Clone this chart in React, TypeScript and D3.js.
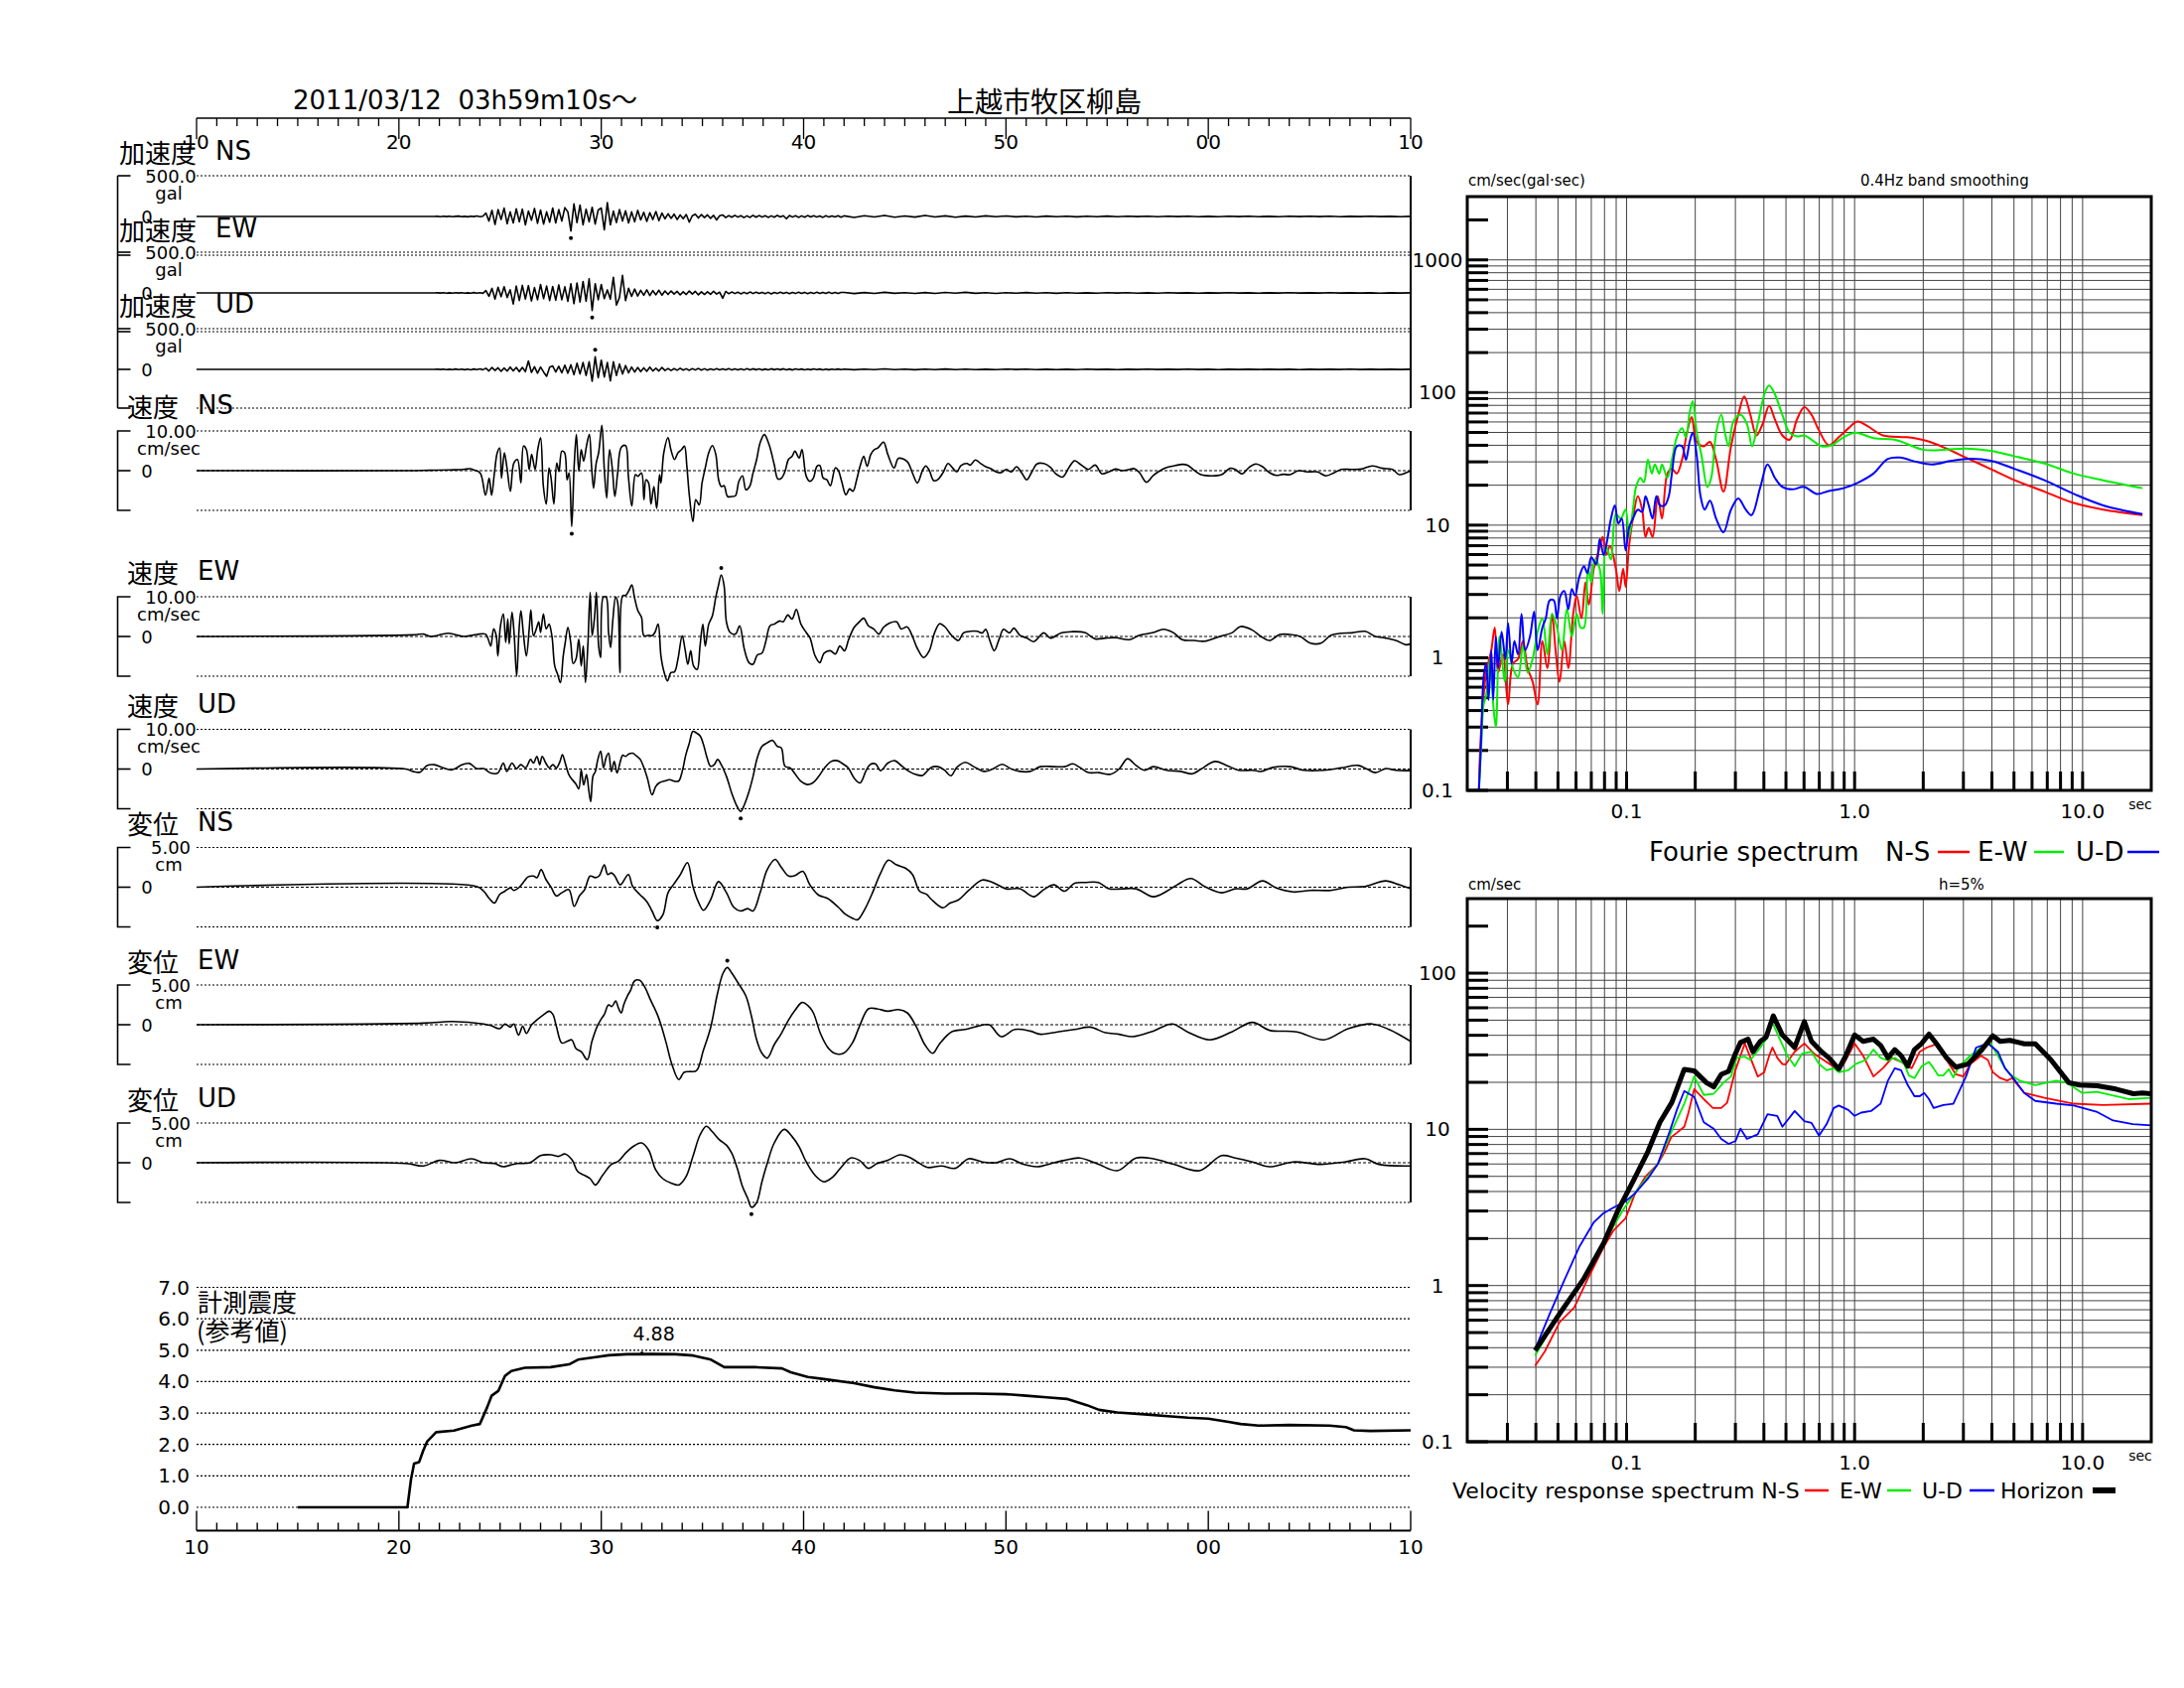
import React from 'react';
import * as d3 from 'd3';

type Pt = [number, number];

// ---- header / axes text ----
const TITLE_TIME = '2011/03/12  03h59m10s～';
const TITLE_SITE = '上越市牧区柳島';
const timeMajor = [10, 20, 30, 40, 50, 60, 70];
const timeMajorLabels = ['10', '20', '30', '40', '50', '00', '10'];

// ---- acceleration (gal), dense part sampled every ACC_DT from ACC_T0, tail every TAIL_DT from TAIL_T0 ----
const ACC_T0 = 21.9;
const ACC_DT = 0.15;
const TAIL_T0 = 42;
const TAIL_DT = 0.5;

const accNS = [
    2, -3, 4, -2, 3, -4, 2, 5, -3, 2, -5, 4, -2, 6, -4, 3,
    45, -60, 80, -105, 90, -40, 110, -95, 60, -85, 100, -70,
    95, -110, 70, -50, 105, -90, 85, -100, 60, -75, 110, -85,
    90, -60, 115, 60, -190, 165, -80, 150, -110, 95, -70, 120,
    -100, 85, 110, -175, 180, -110, 70, -80, 90, -60, 75, -85,
    60, -70, 80, -45, 55, -65, 50, -40, 65, -55, 45, -30,
    35, -25, 30, -40, 20, -30, 25, -75, 10, 30, -20, 25,
    -15, 20, -25, 15, -45, 10, 20, -15,
    12, -10, 15, -8, 10, -15, 8, -12, 15, -10, 12, -8,
    10, -12, 8, -10, 14, -6, 10, -30, 12, -8, 10, -12,
    8, -10, 12, -6, 10, -8, 6, -12, 10, -8, 8, -6, 10, -10
];
const accNSTail = [
    8, -12, 10, -6, 14, -10, 6, -8, 12, -6, 8, -10, 5, -6, 8, -4, 6, -5, 4, -6, 5, -3,
    4, -5, 3, -4, 5, -3, 4, -2, 3, -4, 3, -2, 4, -3, 2, -3, 4, -2, 3, -3,
    2, -3, 3, -2, 4, -2, 3, -3, 2, -2, 3, -2, 2, -3, 2
];
const accEW = [
    2, -2, 3, -3, 2, -4, 3, -2, 4, -3, 2, -3, 5, -4, 3, -5,
    30, -45, 60, -80, 75, -50, 80, -60, 40, -145, 90, -100,
    100, -80, 95, -105, 70, -90, 110, -75, 90, -100, 85, -95,
    105, -90, 80, -110, 120, -140, 130, -120, 150, -110, 185, -230,
    120, -90, 110, -75, 40, -80, 205, -160, -60, 230, -100, 60,
    -45, 50, -40, 35, -30, 40, -35, 30, -25, 35, -30, 25,
    -20, 25, -15, 20, -25, 15, -20, 25, -15, 20, -25, 15,
    -20, 15, -18, 22, -15, 10, -70, 20,
    -10, 12, -8, 10, -12, 8, -10, 12, -8, 10, -6, 8,
    -10, 8, -12, 6, -8, 10, -6, 8, -10, 6, -8, 10,
    -6, 8, -10, 6, -8, 10, -6, 8, -6, 10, -8, 6, -8, 6
];
const accEWTail = [
    6, -8, 5, -6, 8, -5, 4, -6, 5, -7, 6, -4, 8, -5, 4, -6, 3, -4, 5, -3, 4, -5,
    3, -4, 2, -3, 4, -2, 3, -3, 2, -3, 3, -2, 2, -3, 2, -2, 3, -2, 2, -3,
    2, -2, 3, -2, 2, -2, 3, -2, 2, -2, 2, -3, 2, -2, 2
];
const accUD = [
    3, -2, 4, -3, 2, -4, 5, -3, 4, -5, 3, -6, 5, -4, 6, -5,
    15, -20, 25, -15, 20, -25, 18, -22, 30, -20, 25, -30,
    25, -30, 110, -40, 35, -50, 30, -35, -90, 30, 45, -35,
    40, -45, 55, -50, 60, -70, 80, -60, 90, -80, 100, -155,
    165, -110, 120, -100, 90, -150, 100, -80, 70, -60, 50, -45,
    30, -35, 25, -30, 20, -25, 30, -20, 15, -20, 25, -15,
    12, -15, 10, -12, 14, -10, 8, -12, 10, -8, 12, -10,
    8, -10, 6, -8, 10, -6, 8, -6, 10, -8, 6, -8,
    6, -8, 10, -6, 8, -5, 6, -8, 5, -6, 8, -5,
    6, -5, 8, -6, 5, -8, 6, -4, 5, -6, 4, -5,
    6, -4, 5, -6, 4, -5, 3, -4, 5, -3
];
const accUDTail = [
    4, -5, 3, -4, 6, -3, 4, -5, 3, -4, 5, -3, 3, -4, 2, -3, 4, -2, 3, -3, 2, -3,
    2, -3, 3, -2, 2, -3, 2, -2, 3, -2, 2, -2, 3, -2, 2, -3, 2, -2, 2, -2,
    2, -2, 2, -3, 2, -2, 2, -2, 3, -2, 2, -2, 2, -2, 2
];

// ---- velocity (cm/sec) [time s, value] ----
const velNS: Pt[] = [
    [10, 0], [20.5, 0], [21.5, 0.1], [22.5, 0.2], [23.2, 0.3], [23.5, 0.5], [23.7, 0.2], [24.02, -0.6], [24.28, -6.2],
    [24.46, -1.9], [24.58, -6.2], [24.72, -0.6], [24.86, 4.5], [24.98, 5.7], [25.07, -1.9], [25.21, 4.5], [25.33, 1.1],
    [25.51, -5.2], [25.68, 1.9], [25.86, 2.8], [26.03, -3.1], [26.16, 6.2], [26.3, 5.3], [26.44, 0.3], [26.56, 4.1],
    [26.73, 0.3], [26.86, 5.3], [27.0, 8.3], [27.14, -4.0], [27.28, -8.4], [27.42, 0.7], [27.52, -1.9], [27.66, -8.4],
    [27.8, 1.9], [27.91, -0.2], [28.05, 4.9], [28.19, 4.5], [28.31, -2.3], [28.41, -0.6], [28.54, -14.1], [28.66, 1.1],
    [28.77, 9.1], [28.89, -0.2], [29.01, 5.3], [29.13, 2.4], [29.27, 6.2], [29.41, 9.1], [29.52, 1.1], [29.62, -4.4],
    [29.75, 1.9], [29.87, 4.5], [30.03, 11.4], [30.15, 0.3], [30.27, -6.9], [30.41, 5.3], [30.55, 0.3], [30.67, -6.5],
    [30.81, -0.6], [30.99, 5.9], [31.2, 6.3], [31.34, -1.4], [31.51, -8.9], [31.69, -1.0], [31.81, -1.4], [31.99, -0.6],
    [32.11, -7.3], [32.21, -2.3], [32.34, -3.1], [32.46, -8.4], [32.6, -4.0], [32.74, -9.5], [32.88, -1.0], [32.95, -3.1],
    [33.09, 4.5], [33.3, 8.3], [33.44, 5.3], [33.62, 2.8], [33.79, 4.5], [33.97, 5.3], [34.11, 6.2], [34.23, 1.1],
    [34.35, -6.1], [34.53, -12.8], [34.67, -7.3], [34.84, -8.6], [34.98, -3.1], [35.14, 0.7], [35.31, 4.5], [35.49, 6.3],
    [35.66, 4.1], [35.8, -2.3], [35.93, -4.0], [36.07, -3.8], [36.24, -6.5], [36.45, -6.5], [36.63, -6.3], [36.8, -2.7],
    [36.98, -1.3], [37.15, -4.8], [37.33, -4.0], [37.5, -0.6], [37.68, 2.8], [37.85, 7.0], [38.06, 9.1], [38.29, 6.6],
    [38.55, 1.5], [38.73, -2.1], [38.9, -1.9], [39.08, -0.2], [39.25, 2.8], [39.43, 3.6], [39.57, 4.9], [39.78, 3.2],
    [39.92, 5.3], [40.13, -1.4], [40.31, -2.7], [40.48, -1.9], [40.66, 1.1], [40.8, 1.3], [40.97, -1.9], [41.15, -2.3],
    [41.32, -3.8], [41.57, 0.7], [41.71, 0.1], [41.88, -2.7], [42.09, -6.1], [42.27, -4.6], [42.44, -5.2], [42.62, -2.3],
    [42.79, 1.1], [42.97, 3.6], [43.14, 1.1], [43.32, 4.1], [43.49, 5.3], [43.67, 5.7], [43.95, 7.2], [44.16, 4.1],
    [44.47, 0.7], [44.69, 3.1], [45.12, 2.3], [45.37, -0.5], [45.62, -3.1], [45.88, 0.1], [46.04, 1.2], [46.21, 0.1],
    [46.43, -2.5], [46.64, -2.2], [46.89, -0.5], [47.14, 1.8], [47.35, 0.8], [47.57, -0.3], [47.78, 1.3], [48.07, 1.8],
    [48.24, 1.4], [48.49, 2.7], [48.75, 1.8], [49.0, 1.0], [49.25, 0.5], [49.51, -0.3], [49.76, -0.5], [50.01, 0.3],
    [50.27, -0.3], [50.52, 1.0], [50.77, -0.5], [51.03, -2.3], [51.28, -0.3], [51.53, 1.7], [51.87, 1.8], [52.21, 0.8],
    [52.46, -0.8], [52.8, -1.6], [53.14, 1.0], [53.39, 2.5], [53.73, 1.4], [54.07, 0.3], [54.41, 1.4], [54.74, -0.8],
    [55.08, -0.3], [55.42, 0.4], [55.76, 0], [56.1, 0.3], [56.35, 0.5], [56.6, -0.5], [56.94, -2.9], [57.28, -1.2],
    [57.62, 0], [57.95, 0.8], [58.38, 1.3], [58.71, 1.6], [58.97, 1.4], [59.3, 0.1], [59.64, -1.0], [60.15, -1.3],
    [60.66, -1.0], [61.08, 0.6], [61.33, 0.3], [61.67, -0.8], [62.01, 0.8], [62.35, 1.7], [62.68, 1.0], [63.02, -0.5],
    [63.36, -1.2], [63.7, -0.9], [64.03, -1.0], [64.46, 0], [64.88, -0.3], [65.39, -0.3], [65.81, -1.3], [66.23, -0.5],
    [66.57, 0.3], [67.08, 0.3], [67.58, 0.4], [68.09, 1.2], [68.6, 0.6], [69.1, 0.3], [69.44, -1.0], [69.78, -0.5], [70, 0]
];
const velEW: Pt[] = [
    [10, 0], [20.69, 0.4], [21.22, 0.6], [21.57, 0], [22.44, 0.8], [23.23, 0], [23.84, 0.5], [24.28, 0.6], [24.4, -0.5],
    [24.54, -2.4], [24.68, 1.9], [24.81, 0.2], [24.89, -4.9], [25.02, 2.7], [25.16, 5.7], [25.28, -1.5], [25.38, 4.4],
    [25.45, -1.9], [25.59, 6.1], [25.7, 0.2], [25.82, -10.0], [25.94, 1.9], [26.03, 6.5], [26.16, 0.2], [26.3, -4.9],
    [26.44, 1.9], [26.52, 6.7], [26.65, 0.2], [26.79, 1.9], [26.91, 3.7], [27.0, 1.0], [27.14, 5.7], [27.28, 1.9],
    [27.42, 3.1], [27.56, 0.2], [27.7, -7.4], [27.84, -9.5], [27.98, -11.6], [28.12, -4.9], [28.22, -1.5], [28.35, 2.3],
    [28.49, -1.5], [28.61, -6.8], [28.75, -5.7], [28.89, -0.7], [29.01, -7.4], [29.11, -2.4], [29.22, -11.6], [29.34, -1.9],
    [29.45, 11.1], [29.55, 0.2], [29.66, 4.4], [29.76, 11.1], [29.87, -2.4], [29.97, -5.3], [30.1, 9.9], [30.24, 9.9],
    [30.36, 1.0], [30.46, -2.8], [30.57, 4.0], [30.71, 9.9], [30.81, 8.6], [30.92, -9.1], [31.06, 10.3], [31.2, 10.3],
    [31.37, 11.6], [31.51, 13.0], [31.64, 9.9], [31.81, 6.5], [31.99, 4.8], [32.11, 0.2], [32.34, 0.3], [32.51, 0.2],
    [32.65, 1.0], [32.81, 3.1], [32.95, -4.9], [33.09, -8.7], [33.27, -11.2], [33.44, -9.1], [33.62, -8.9], [33.79, -5.7],
    [34.0, 0.2], [34.14, -3.2], [34.28, -7.0], [34.42, -3.6], [34.56, -7.4], [34.74, -8.3], [34.88, -2.4], [35.02, 3.1],
    [35.14, -2.4], [35.31, 3.1], [35.49, 5.2], [35.66, 9.9], [35.79, 12.8], [35.93, 15.5], [36.07, 12.8], [36.19, 3.5],
    [36.37, 1.0], [36.63, 0.6], [36.84, 2.7], [37.07, -3.2], [37.3, -6.6], [37.5, -7.0], [37.71, -4.7], [37.94, -4.2],
    [38.12, -1.5], [38.34, 2.7], [38.55, 3.1], [38.82, 3.9], [38.99, 3.7], [39.22, 5.4], [39.43, 4.4], [39.64, 6.8],
    [39.87, 3.1], [40.13, 1.0], [40.31, -0.3], [40.57, -4.9], [40.8, -6.6], [41.01, -4.2], [41.32, -3.6], [41.57, -4.4],
    [41.79, -2.4], [42.02, -3.6], [42.23, -0.7], [42.5, 2.3], [42.76, 3.7], [42.97, 4.6], [43.2, 2.7], [43.46, 1.9],
    [43.72, 0.6], [43.95, 2.3], [44.25, 3.4], [44.6, 3.7], [44.82, 1.9], [45.12, 2.4], [45.38, 0], [45.62, -3.0],
    [45.93, -5.3], [46.21, -3.6], [46.47, 0.9], [46.72, 3.2], [46.97, 2.5], [47.31, 0.3], [47.65, -1.0], [47.9, 0.9],
    [48.24, 1.3], [48.58, 1.3], [48.83, 0.9], [49.0, 1.8], [49.2, -1.0], [49.42, -3.6], [49.68, -0.4], [49.88, 1.8],
    [50.18, 0.9], [50.39, 2.1], [50.69, 0.3], [51.03, -0.4], [51.37, -1.3], [51.87, 0.9], [52.21, -0.4], [52.72, 0.9],
    [53.22, 1.2], [53.9, 1.0], [54.41, -0.6], [54.91, -0.4], [55.42, -0.3], [56.1, -0.8], [56.6, 0.3], [57.28, 1.0],
    [57.78, 1.8], [58.29, 0.9], [58.71, -0.8], [59.3, -1.0], [59.81, -1.2], [60.49, -0.1], [61.16, 0.9], [61.59, 2.5],
    [62.18, 1.6], [62.6, 0], [63.02, -1.0], [63.53, 0.5], [64.03, 0.5], [64.54, 0], [65.05, -1.7], [65.56, -1.7],
    [66.06, 0.3], [66.57, 0.8], [67.08, 0.9], [67.75, 1.3], [68.26, 0], [68.76, -0.4], [69.27, -1.0], [69.78, -2.1], [70, -1.8]
];
const velUD: Pt[] = [
    [10, 0], [20.34, 0], [20.69, -0.6], [21.04, -0.8], [21.39, 0.9], [21.74, 1.1], [22.18, 0.3], [22.62, -0.2], [23.14, 1.1],
    [23.49, 1.4], [23.84, 0.1], [24.19, 0.1], [24.54, -1.0], [24.89, -1.0], [25.16, 1.5], [25.33, -0.6], [25.59, 1.5],
    [25.8, 0.1], [26.03, 1.1], [26.26, 0.3], [26.51, 2.4], [26.65, 1.5], [26.82, 3.2], [26.96, 1.1], [27.08, 3.2],
    [27.26, 1.5], [27.43, 0.3], [27.61, 1.1], [27.78, 0.3], [27.96, 1.9], [28.08, 3.6], [28.22, 1.5], [28.4, -1.4],
    [28.57, -2.7], [28.75, -3.8], [28.89, -5.0], [29.01, -0.2], [29.13, -4.0], [29.27, -1.4], [29.38, -5.2], [29.48, -8.2],
    [29.59, -1.8], [29.71, -0.6], [29.83, 2.4], [29.97, 4.5], [30.11, 0.3], [30.24, 2.9], [30.36, 4.0], [30.5, -0.6],
    [30.64, 1.9], [30.78, -1.0], [30.94, 1.9], [31.06, 3.5], [31.2, 3.2], [31.37, 3.8], [31.55, 4.0], [31.76, 3.2],
    [31.93, 2.4], [32.11, 0.3], [32.28, -2.3], [32.51, -6.5], [32.69, -4.4], [32.86, -3.5], [33.13, -3.0], [33.39, -2.7],
    [33.65, -3.1], [33.83, -3.0], [34.0, -0.6], [34.18, 3.6], [34.35, 6.5], [34.53, 9.5], [34.7, 9.1], [34.88, 8.4],
    [35.05, 6.2], [35.23, 2.8], [35.4, 0.7], [35.58, 1.1], [35.75, 2.4], [35.93, 1.1], [36.19, -1.9], [36.45, -6.1],
    [36.72, -9.5], [36.89, -10.7], [37.07, -9.0], [37.3, -5.7], [37.5, -1.9], [37.71, 2.8], [37.94, 5.7], [38.2, 6.6],
    [38.47, 7.2], [38.7, 5.7], [38.9, 5.3], [39.08, 0.7], [39.34, 0.3], [39.6, -1.4], [39.87, -3.1], [40.17, -3.9],
    [40.45, -3.5], [40.74, -1.9], [41.04, 0.3], [41.36, 1.9], [41.67, 2.1], [41.88, 1.5], [42.2, 0.3], [42.5, -2.3],
    [42.79, -3.5], [43.07, -0.6], [43.28, 1.1], [43.55, 1.3], [43.81, -0.4], [44.16, 1.5], [44.51, 2.1], [44.86, 0.7],
    [45.21, -0.6], [45.56, -1.4], [45.88, -1.6], [46.3, 0.4], [46.64, 0.6], [46.97, -0.3], [47.28, -1.7], [47.57, 0.4],
    [47.99, 1.7], [48.41, 0.6], [48.92, -0.6], [49.34, 0], [49.81, 1.2], [50.27, 0], [50.69, -0.6], [51.2, -0.6],
    [51.7, 0.6], [52.38, 0.6], [52.89, 0.6], [53.31, 1.3], [53.65, 0.4], [54.07, -0.9], [54.57, -0.9], [55.17, -1.3],
    [55.59, 0], [56.01, 2.6], [56.43, 0.9], [56.86, -0.3], [57.28, 0.6], [57.95, -0.3], [58.63, -0.6], [59.22, -1.2],
    [59.64, 0], [60.32, 1.9], [60.91, 0.9], [61.5, -0.3], [62.18, -0.3], [62.6, -0.6], [63.19, 0.4], [64.03, 0.6],
    [64.71, -0.3], [65.72, -0.3], [66.57, 0.3], [67.41, 0.9], [67.84, 0], [68.26, -0.9], [68.76, 0.1], [69.27, -0.3], [70, -0.4]
];

// ---- displacement (cm) [time s, value] ----
const dispNS: Pt[] = [
    [10, 0], [23.84, 0.1], [24.19, -0.5], [24.46, -1.4], [24.72, -2.0], [24.98, -0.9], [25.24, -0.5], [25.51, -0.1],
    [25.68, -0.4], [25.95, 0], [26.21, 0.8], [26.38, 1.3], [26.65, 1.4], [26.82, 1.2], [27.03, 2.2], [27.26, 1.0],
    [27.52, 0], [27.78, -1.1], [28.05, -0.7], [28.4, -0.3], [28.66, -2.4], [28.92, -1.1], [29.18, -0.3], [29.45, 1.4],
    [29.71, 1.2], [29.89, 1.4], [30.15, 2.8], [30.32, 1.6], [30.5, 1.8], [30.67, 1.4], [30.94, 0.3], [31.34, 1.6],
    [31.55, 0.1], [31.9, -0.9], [32.25, -1.8], [32.51, -3.0], [32.77, -4.2], [33.04, -3.5], [33.3, -0.7], [33.56, 0.3],
    [33.91, 1.6], [34.26, 3.1], [34.53, 0.1], [34.79, -1.8], [35.05, -2.9], [35.4, -1.6], [35.79, 0.7], [36.19, -0.7],
    [36.54, -2.5], [36.89, -3.0], [37.24, -2.7], [37.5, -3.0], [37.85, -0.7], [38.2, 2.2], [38.59, 3.5], [38.9, 2.5],
    [39.26, 1.4], [39.6, 1.5], [39.96, 2.0], [40.31, 0.3], [40.74, -1.0], [41.18, -1.4], [41.71, -2.5], [42.06, -3.4],
    [42.41, -3.9], [42.67, -4.1], [43.02, -2.8], [43.37, -0.9], [43.81, 1.8], [44.19, 3.4], [44.6, 2.8], [45.03, 2.4],
    [45.38, 1.6], [45.73, -0.5], [46.08, -0.9], [46.3, -1.5], [46.89, -2.6], [47.23, -2.0], [47.65, -1.6], [48.16, -0.4],
    [48.83, 0.9], [49.34, 0.6], [50.01, -0.2], [50.69, -0.2], [51.37, -1.2], [51.87, -0.3], [52.38, 0.3], [52.89, -0.5],
    [53.39, 0.5], [53.9, 0.6], [54.57, 0.6], [55.08, -0.2], [55.76, -0.2], [56.43, -0.2], [57.28, -1.2], [57.95, -0.5],
    [58.46, 0.3], [59.14, 1.1], [59.81, 0.1], [60.66, -0.7], [61.33, -0.2], [61.92, -0.2], [62.68, 0.8], [63.36, -0.1],
    [64.2, -0.6], [65.05, -0.4], [66.06, -0.4], [66.91, 0], [67.75, 0.1], [68.76, 0.8], [69.44, 0.3], [70, -0.2]
];
const dispEW: Pt[] = [
    [10, 0], [21.22, 0.2], [22.62, 0.4], [24.19, 0.1], [24.54, -0.1], [24.98, -0.5], [25.24, 0.1], [25.51, -0.3],
    [25.68, 0.1], [25.91, -1.3], [26.12, -0.2], [26.3, -1.1], [26.56, 0], [26.82, 0.6], [27.17, 1.3], [27.43, 1.7],
    [27.61, 1.3], [27.78, -0.2], [28.05, -2.3], [28.31, -2.1], [28.54, -1.9], [28.75, -3.0], [29.01, -3.4], [29.31, -4.4],
    [29.54, -2.1], [29.8, -0.2], [29.97, 0.6], [30.15, 1.3], [30.36, 2.5], [30.53, 2.3], [30.71, 3.0], [30.85, 2.1],
    [30.99, 1.5], [31.11, 2.5], [31.29, 3.6], [31.46, 4.4], [31.64, 5.5], [31.9, 5.6], [32.16, 4.7], [32.42, 3.2],
    [32.77, 1.3], [32.95, 0], [33.21, -2.3], [33.48, -4.9], [33.83, -6.9], [34.09, -6.0], [34.35, -5.9], [34.7, -5.8],
    [35.05, -3.2], [35.4, -0.4], [35.75, 4.0], [36.02, 6.5], [36.23, 7.2], [36.45, 6.5], [36.8, 5.1], [37.15, 3.6],
    [37.42, 1.1], [37.68, -1.9], [37.94, -3.6], [38.2, -4.2], [38.55, -2.5], [38.9, -1.1], [39.26, 0.6], [39.6, 1.9],
    [39.92, 2.8], [40.22, 2.4], [40.48, 1.5], [40.83, -1.1], [41.18, -2.8], [41.53, -3.6], [41.97, -3.6], [42.41, -2.3],
    [42.76, -0.2], [43.2, 2.0], [43.63, 2.0], [44.16, 1.7], [44.68, 1.9], [45.12, 1.5], [45.56, -0.2], [45.99, -2.5],
    [46.38, -3.6], [46.72, -2.4], [47.31, -0.9], [47.99, -0.6], [48.58, -0.2], [49.17, 0], [49.76, -1.5], [50.44, -0.6],
    [51.2, -0.8], [51.7, -1.2], [52.55, -0.9], [53.39, -0.6], [54.15, -0.3], [54.91, -1.0], [55.59, -1.2], [56.26, -1.5],
    [57.28, -0.8], [58.21, 0.1], [58.97, -0.9], [60.07, -1.9], [61.16, -0.9], [62.18, 0.3], [63.02, -0.7], [64.37, -0.9],
    [65.72, -1.9], [66.91, -0.5], [68.09, 0.1], [68.93, -0.6], [70, -2.1]
];
const dispUD: Pt[] = [
    [10, 0], [20.34, -0.1], [21.22, -0.4], [22.0, 0.3], [22.79, 0], [23.58, 0.5], [24.19, 0], [24.72, -0.1], [25.16, -0.5],
    [25.51, -0.3], [25.86, -0.1], [26.47, 0], [27.0, 0.9], [27.52, 1.0], [27.87, 0.8], [28.22, 1.1], [28.57, 0.3],
    [28.83, -1.1], [29.18, -1.6], [29.45, -2.0], [29.71, -2.8], [30.06, -1.6], [30.5, -0.2], [30.85, 0.2], [31.2, 1.2],
    [31.55, 2.0], [31.99, 2.5], [32.34, 1.6], [32.69, -0.9], [33.04, -2.0], [33.48, -2.6], [33.83, -2.8], [34.18, -1.8],
    [34.53, 0.8], [34.88, 3.5], [35.19, 4.6], [35.49, 3.9], [35.84, 2.9], [36.19, 2.2], [36.45, 1.2], [36.72, -0.7],
    [36.98, -3.0], [37.24, -4.5], [37.42, -5.6], [37.68, -5.0], [37.94, -2.4], [38.2, -0.1], [38.55, 2.5], [39.04, 4.2],
    [39.43, 3.3], [39.78, 2.0], [40.13, 0.1], [40.57, -1.6], [41.01, -2.4], [41.44, -1.8], [41.88, -0.5], [42.32, 0.6],
    [42.76, 0.3], [43.2, -0.7], [43.63, -0.1], [44.16, 0.3], [44.77, 1.0], [45.3, 0.6], [45.62, 0.1], [46.13, -0.6],
    [46.81, -0.4], [47.48, -0.7], [48.16, 0.5], [48.83, 0.1], [49.51, 0], [50.18, 0.5], [50.86, -0.2], [51.53, -0.5],
    [52.38, 0], [52.89, 0.3], [53.65, 0.6], [54.57, -0.2], [55.51, -1.0], [56.43, 0.6], [57.28, 0.5], [58.29, -0.2],
    [59.56, -1.0], [60.66, 0.9], [61.33, 0.6], [62.18, 0.1], [63.02, -0.5], [64.2, 0.1], [65.56, -0.2], [66.74, 0.1],
    [67.75, 0.5], [68.43, -0.2], [70, -0.4]
];

// ---- instrumental seismic intensity ----
const intensity: Pt[] = [
    [15, 0], [20.42, 0], [20.6, 0.9], [20.75, 1.39], [21.0, 1.44], [21.2, 1.8], [21.4, 2.1], [21.84, 2.39], [22.72, 2.44],
    [23.6, 2.6], [24.0, 2.65], [24.36, 3.18], [24.58, 3.55], [24.91, 3.7], [25.24, 4.18], [25.56, 4.34], [26.22, 4.44],
    [27.5, 4.46], [28.41, 4.55], [28.85, 4.7], [29.73, 4.78], [30.38, 4.84], [31.26, 4.87], [32.5, 4.88], [33.66, 4.87],
    [34.54, 4.83], [35.42, 4.7], [36.08, 4.46], [37.61, 4.46], [38.93, 4.42], [39.36, 4.3], [40.2, 4.15], [41, 4.08],
    [42.5, 3.95], [43.5, 3.82], [44.5, 3.72], [45.5, 3.65], [47, 3.62], [48.5, 3.62], [50, 3.6], [51, 3.55], [52, 3.5],
    [53, 3.45], [54, 3.25], [54.6, 3.1], [55.5, 3.02], [57, 2.95], [58, 2.9], [59, 2.85], [60, 2.82], [61, 2.72],
    [61.6, 2.65], [62.5, 2.6], [64, 2.62], [66, 2.6], [66.8, 2.55], [67.2, 2.45], [68, 2.43], [70, 2.45]
];
const intensityTicks = [0, 1, 2, 3, 4, 5, 6, 7];
const intensityTickLabels = ['0.0', '1.0', '2.0', '3.0', '4.0', '5.0', '6.0', '7.0'];
const PEAK_INTENSITY = 4.88;

// ---- Fourier spectrum [period s, cm/sec] ----
const fourierNS: Pt[] = [
    [0.0225, 0.1], [0.023, 0.277], [0.0242, 0.771], [0.0255, 1.14], [0.0264, 1.69], [0.0273, 0.771], [0.0287, 1.06],
    [0.0302, 0.445], [0.0317, 0.903], [0.0334, 0.977], [0.0351, 1.34], [0.0368, 0.835], [0.0387, 0.659], [0.0407, 0.445],
    [0.0427, 1.34], [0.0449, 0.835], [0.0471, 2.14], [0.0488, 1.14], [0.0508, 0.659], [0.0533, 1.34], [0.0555, 0.835],
    [0.0583, 2.14], [0.0604, 2.94], [0.0634, 1.98], [0.066, 3.71], [0.0683, 2.51], [0.0718, 4.7], [0.0755, 6.44],
    [0.0785, 8.16], [0.0812, 5.95], [0.0845, 6.97], [0.0897, 4.7], [0.0929, 3.18], [0.0966, 4.7], [0.099, 3.43],
    [0.1025, 6.97], [0.1066, 11.2], [0.112, 16.5], [0.117, 13.1], [0.121, 8.16], [0.125, 9.55], [0.13, 8.16],
    [0.137, 16.5], [0.143, 11.2], [0.151, 24.5], [0.158, 26.5], [0.166, 24.5], [0.175, 31.1], [0.184, 49.7],
    [0.193, 65.3], [0.203, 42.5], [0.218, 39.3], [0.232, 42.5], [0.247, 31.1], [0.266, 17.9], [0.287, 39.3],
    [0.309, 67.9], [0.328, 93.3], [0.349, 67.9], [0.371, 47.5], [0.395, 58.1], [0.422, 79.4], [0.447, 62.8],
    [0.482, 47.5], [0.519, 44.1], [0.559, 62.8], [0.602, 77.6], [0.647, 67.9], [0.698, 51.7], [0.771, 40.0],
    [0.852, 46.0], [0.939, 53.7], [1.03, 60.4], [1.14, 55.8], [1.33, 47.5], [1.7, 46.0], [2.07, 43.2], [2.53, 37.8],
    [3.08, 32.3], [3.95, 26.5], [5.05, 21.8], [6.8, 17.9], [9.15, 14.7], [12.3, 13.1], [18.3, 11.9]
];
const fourierEW: Pt[] = [
    [0.0225, 0.1], [0.023, 0.203], [0.0236, 0.445], [0.0242, 0.521], [0.0252, 0.977], [0.026, 0.445], [0.0267, 0.3],
    [0.0277, 1.45], [0.0292, 0.659], [0.0302, 1.14], [0.0317, 0.835], [0.0334, 0.713], [0.0351, 1.24], [0.0368, 0.771],
    [0.0387, 0.977], [0.0407, 1.57], [0.0427, 1.98], [0.0449, 1.06], [0.0471, 2.14], [0.0495, 1.69], [0.052, 1.14],
    [0.0547, 2.32], [0.0575, 1.45], [0.0604, 2.14], [0.0628, 1.69], [0.065, 1.69], [0.0677, 4.7], [0.07, 3.71],
    [0.0725, 5.5], [0.0762, 4.7], [0.0785, 2.14], [0.0812, 6.97], [0.0854, 5.5], [0.0897, 12.1], [0.0942, 11.2],
    [0.099, 13.1], [0.1025, 8.16], [0.1066, 13.1], [0.11, 19.4], [0.115, 22.7], [0.119, 21.0], [0.124, 31.1],
    [0.129, 24.5], [0.133, 28.7], [0.139, 24.5], [0.143, 28.7], [0.151, 22.7], [0.158, 31.1], [0.166, 46.0],
    [0.175, 53.7], [0.182, 46.0], [0.189, 70.6], [0.195, 86.0], [0.203, 49.7], [0.213, 33.6], [0.226, 19.4],
    [0.235, 22.7], [0.247, 49.7], [0.26, 67.9], [0.27, 49.7], [0.28, 39.3], [0.294, 60.4], [0.316, 67.9], [0.337, 58.1],
    [0.355, 39.3], [0.376, 58.1], [0.405, 101], [0.422, 113], [0.447, 97.1], [0.482, 67.9], [0.519, 49.7],
    [0.559, 46.7], [0.602, 47.5], [0.647, 44.1], [0.716, 39.3], [0.791, 40.0], [0.895, 46.0], [1.01, 49.7],
    [1.21, 45.3], [1.5, 44.1], [2.02, 36.9], [2.53, 37.1], [3.08, 37.8], [3.95, 36.3], [5.05, 33.0], [6.8, 29.2],
    [9.15, 24.5], [12.3, 21.8], [18.3, 19.0]
];
const fourierUD: Pt[] = [
    [0.0225, 0.1], [0.023, 0.237], [0.0236, 0.713], [0.0242, 0.903], [0.0248, 0.481], [0.0255, 1.14], [0.026, 0.481],
    [0.0267, 1.45], [0.0273, 0.835], [0.0283, 1.57], [0.0294, 0.977], [0.0302, 1.83], [0.0313, 0.903], [0.0322, 1.34],
    [0.0334, 1.06], [0.0346, 2.14], [0.0359, 1.14], [0.0377, 1.45], [0.0393, 2.23], [0.0407, 1.14], [0.0427, 1.69],
    [0.0442, 1.98], [0.046, 2.71], [0.0479, 2.71], [0.0495, 1.98], [0.0513, 2.94], [0.0533, 3.18], [0.0555, 2.32],
    [0.0575, 3.3], [0.0594, 2.94], [0.0619, 4.02], [0.065, 4.89], [0.0673, 4.35], [0.07, 5.72], [0.0736, 5.09],
    [0.0762, 7.84], [0.0793, 5.95], [0.082, 7.54], [0.0854, 11.2], [0.0888, 14.1], [0.092, 10.3], [0.0952, 11.2],
    [0.099, 6.44], [0.1025, 9.55], [0.1066, 11.2], [0.112, 13.1], [0.117, 12.6], [0.121, 16.5], [0.125, 14.1],
    [0.13, 11.2], [0.135, 16.5], [0.14, 14.1], [0.147, 14.1], [0.153, 16.5], [0.158, 24.5], [0.166, 39.3],
    [0.175, 39.3], [0.182, 31.1], [0.189, 42.5], [0.195, 49.7], [0.203, 33.6], [0.211, 16.5], [0.22, 13.1],
    [0.232, 15.3], [0.247, 11.2], [0.266, 8.83], [0.287, 13.1], [0.309, 15.9], [0.333, 13.1], [0.353, 11.9],
    [0.386, 19.4], [0.415, 28.7], [0.447, 22.7], [0.482, 19.4], [0.532, 18.6], [0.602, 19.4], [0.681, 17.2],
    [0.771, 18.1], [0.895, 19.0], [1.04, 21.0], [1.21, 24.5], [1.4, 31.6], [1.58, 32.3], [1.88, 29.9], [2.18, 28.7],
    [2.67, 30.6], [3.22, 31.6], [3.95, 30.6], [5.05, 26.5], [6.8, 21.8], [9.15, 17.2], [12.3, 14.1], [18.3, 12.1]
];

// ---- velocity response spectrum h=5% [period s, cm/sec] ----
const responseNS: Pt[] = [
    [0.0397, 0.306], [0.0438, 0.379], [0.0508, 0.582], [0.0589, 0.722], [0.0683, 1.14], [0.0793, 1.76], [0.0875, 2.25],
    [0.099, 2.7], [0.109, 3.9], [0.121, 4.99], [0.137, 6.0], [0.147, 7.2], [0.157, 8.93], [0.166, 9.5], [0.179, 10.4],
    [0.186, 12.5], [0.198, 18.1], [0.218, 15.6], [0.239, 13.7], [0.26, 13.7], [0.276, 14.8], [0.3, 23.9], [0.33, 35.5],
    [0.376, 21.8], [0.401, 23.2], [0.422, 29.6], [0.436, 33.4], [0.458, 28.7], [0.482, 26.2], [0.498, 26.0],
    [0.546, 31.4], [0.602, 35.5], [0.664, 30.5], [0.73, 27.8], [0.83, 24.6], [0.895, 26.2], [1.0, 35.5], [1.09, 29.6],
    [1.21, 21.8], [1.33, 24.6], [1.46, 28.7], [1.6, 27.0], [1.78, 24.6], [1.93, 31.4], [2.07, 33.4], [2.28, 35.1],
    [2.53, 27.8], [2.78, 22.5], [3.0, 21.8], [3.22, 26.2], [3.58, 29.6], [3.84, 27.8], [4.04, 23.2], [4.35, 21.3],
    [4.68, 20.5], [4.9, 21.3], [5.55, 17.1], [6.8, 15.9], [9.15, 14.6], [12.3, 14.3], [20, 14.6]
];
const responseEW: Pt[] = [
    [0.0397, 0.356], [0.0438, 0.456], [0.0533, 0.745], [0.0683, 1.25], [0.0793, 1.87], [0.0966, 3.06], [0.112, 4.15],
    [0.137, 6.0], [0.158, 9.82], [0.179, 14.6], [0.198, 21.8], [0.218, 16.6], [0.241, 16.9], [0.266, 19.9],
    [0.287, 21.8], [0.304, 28.7], [0.33, 29.2], [0.349, 27.8], [0.386, 33.4], [0.409, 37.8], [0.436, 48.3],
    [0.47, 37.8], [0.507, 29.6], [0.546, 25.4], [0.588, 30.5], [0.647, 31.4], [0.698, 26.2], [0.754, 23.9],
    [0.81, 24.6], [0.852, 23.2], [0.939, 23.9], [1.01, 26.2], [1.12, 27.8], [1.21, 32.4], [1.3, 28.7], [1.4, 27.6],
    [1.5, 28.7], [1.65, 26.2], [1.73, 22.1], [1.83, 21.3], [1.97, 25.4], [2.12, 27.0], [2.22, 24.6], [2.33, 22.1],
    [2.45, 22.1], [2.59, 24.3], [2.71, 21.5], [2.85, 25.0], [3.22, 29.6], [3.58, 33.4], [3.95, 35.5], [4.25, 29.6],
    [4.57, 24.6], [4.8, 22.5], [5.29, 20.5], [6.2, 19.2], [7.66, 20.5], [8.5, 19.9], [9.96, 17.1], [11.6, 17.4],
    [15.9, 15.6], [20, 15.9]
];
const responseUD: Pt[] = [
    [0.0397, 0.391], [0.046, 0.659], [0.0533, 1.08], [0.0619, 1.76], [0.0718, 2.54], [0.0793, 2.91], [0.0875, 3.15],
    [0.099, 3.46], [0.109, 3.9], [0.124, 4.84], [0.137, 6.0], [0.155, 9.82], [0.166, 13.3], [0.179, 17.6],
    [0.198, 16.1], [0.218, 11.1], [0.241, 10.1], [0.26, 8.68], [0.28, 8.07], [0.3, 8.4], [0.316, 10.1], [0.337, 8.68],
    [0.376, 9.3], [0.415, 12.5], [0.458, 12.2], [0.482, 10.4], [0.546, 13.1], [0.602, 11.3], [0.647, 11.0],
    [0.698, 9.1], [0.754, 10.8], [0.81, 13.7], [0.852, 14.2], [0.939, 13.3], [1.0, 12.2], [1.07, 12.8], [1.18, 13.1],
    [1.3, 14.6], [1.4, 20.5], [1.5, 24.6], [1.6, 23.9], [1.71, 19.2], [1.83, 16.3], [1.93, 16.3], [2.02, 17.1],
    [2.12, 15.6], [2.22, 13.7], [2.45, 14.3], [2.71, 14.6], [3.08, 21.8], [3.41, 33.4], [3.84, 35.5], [4.25, 31.4],
    [4.57, 24.6], [4.9, 21.8], [5.55, 17.1], [6.2, 15.2], [7.66, 14.6], [9.15, 14.2], [11.6, 12.9], [13.6, 11.4],
    [16.6, 10.8], [20, 10.6]
];
const responseHorizon: Pt[] = [
    [0.0397, 0.384], [0.0508, 0.659], [0.065, 1.11], [0.0793, 1.87], [0.092, 3.06], [0.107, 4.69], [0.124, 7.2],
    [0.14, 11.1], [0.158, 14.9], [0.179, 24.2], [0.198, 23.7], [0.224, 19.9], [0.241, 18.7], [0.26, 22.5],
    [0.28, 23.5], [0.3, 30.5], [0.316, 36.0], [0.341, 37.8], [0.358, 31.4], [0.386, 36.6], [0.409, 38.9],
    [0.44, 53.2], [0.482, 40.2], [0.546, 33.4], [0.602, 49.0], [0.647, 36.6], [0.716, 31.4], [0.771, 28.7],
    [0.852, 24.3], [0.915, 29.6], [1.0, 40.2], [1.09, 36.6], [1.21, 37.8], [1.3, 34.5], [1.4, 28.7], [1.5, 32.4],
    [1.6, 29.6], [1.71, 25.4], [1.83, 32.4], [1.97, 35.5], [2.12, 40.7], [2.28, 35.5], [2.53, 28.7], [2.78, 25.0],
    [3.14, 26.2], [3.58, 31.8], [4.04, 39.7], [4.35, 36.6], [4.8, 37.1], [5.55, 35.3], [6.2, 35.3], [7.27, 27.8],
    [8.7, 19.9], [9.7, 19.2], [11.6, 19.0], [14.0, 18.1], [16.7, 16.9], [18.3, 17.1], [20, 16.9]
];
const periodLabelValues = [0.1, 1, 10];
const periodLabels = ['0.1', '1.0', '10.0'];

// ---- layout & style ----
const SANS = '"DejaVu Sans", "Noto Sans CJK JP", sans-serif';
const CJK = '"Noto Sans CJK JP", "DejaVu Sans", sans-serif';
const RED = '#ff0000';
const GREEN = '#00ee00';
const BLUE = '#0000ff';

const tX = d3.scaleLinear().domain([10, 70]).range([198, 1421]);
const periodX = d3.scaleLog().domain([0.02, 20]).range([1478, 2167]);

const buildAcc = (dense: number[], tail: number[]): Pt[] => [
    [10, 0],
    [ACC_T0 - ACC_DT, 0],
    ...dense.map((v, i) => [ACC_T0 + i * ACC_DT, v] as Pt),
    ...tail.map((v, i) => [TAIL_T0 + i * TAIL_DT, v] as Pt)
];

type Panel = {
    name: string;
    comp: string;
    full: number;
    fullText: string;
    unit: string;
    data: Pt[];
    zero: number;
    labelY: number;
    kind: 'acc' | 'vel' | 'disp';
};

const panels: Panel[] = [
    { name: '加速度', comp: 'NS', full: 500, fullText: '500.0', unit: 'gal', data: buildAcc(accNS, accNSTail), zero: 218, labelY: 152, kind: 'acc' },
    { name: '加速度', comp: 'EW', full: 500, fullText: '500.0', unit: 'gal', data: buildAcc(accEW, accEWTail), zero: 295, labelY: 230, kind: 'acc' },
    { name: '加速度', comp: 'UD', full: 500, fullText: '500.0', unit: 'gal', data: buildAcc(accUD, accUDTail), zero: 372, labelY: 306, kind: 'acc' },
    { name: '速度', comp: 'NS', full: 10, fullText: '10.00', unit: 'cm/sec', data: velNS, zero: 474, labelY: 408, kind: 'vel' },
    { name: '速度', comp: 'EW', full: 10, fullText: '10.00', unit: 'cm/sec', data: velEW, zero: 641, labelY: 575, kind: 'vel' },
    { name: '速度', comp: 'UD', full: 10, fullText: '10.00', unit: 'cm/sec', data: velUD, zero: 774.5, labelY: 709, kind: 'vel' },
    { name: '変位', comp: 'NS', full: 5, fullText: '5.00', unit: 'cm', data: dispNS, zero: 893.5, labelY: 828, kind: 'disp' },
    { name: '変位', comp: 'EW', full: 5, fullText: '5.00', unit: 'cm', data: dispEW, zero: 1032, labelY: 967, kind: 'disp' },
    { name: '変位', comp: 'UD', full: 5, fullText: '5.00', unit: 'cm', data: dispUD, zero: 1171, labelY: 1106, kind: 'disp' }
];

const BR_X = 118.5;
const DOT = '2 2';

function panelTop(p: Panel) {
    return p.kind === 'acc' ? p.zero - 41 : p.zero - 40;
}
function panelBottom(p: Panel) {
    return p.kind === 'acc' ? p.zero + 39 : p.zero + 40;
}
function panelHalf(p: Panel) {
    return p.kind === 'acc' ? 38.5 : 40;
}

function TracePanel({ p }: { p: Panel }) {
    const top = panelTop(p);
    const bottom = panelBottom(p);
    const half = panelHalf(p);
    const yv = (v: number) => p.zero - (v / p.full) * half;
    const line = d3
        .line<Pt>()
        .x((d) => tX(d[0]))
        .y((d) => yv(d[1]))
        .curve(p.kind === 'acc' ? d3.curveLinear : d3.curveCatmullRom.alpha(0.5));
    const peak = p.data.reduce((a, d) => (Math.abs(d[1]) > Math.abs(a[1]) ? d : a), p.data[0]);
    const sgn = Math.sign(peak[1]);
    const nameX = p.kind === 'acc' ? 120 : 128;
    const compX = nameX + p.name.length * 26 + 19;
    const x0 = tX(10);
    const x1 = tX(70);
    return (
        <g>
            <line x1={x0} x2={x1} y1={top} y2={top} stroke="#000" strokeWidth={1.2} strokeDasharray={DOT} />
            <line x1={x0} x2={x1} y1={bottom} y2={bottom} stroke="#000" strokeWidth={1.2} strokeDasharray={DOT} />
            {p.kind !== 'acc' && (
                <line x1={x0} x2={x1} y1={p.zero} y2={p.zero} stroke="#000" strokeWidth={1.2} strokeDasharray="3 2" />
            )}
            <path d={line(p.data) || ''} fill="none" stroke="#000" strokeWidth={p.kind === 'acc' ? 1.6 : 1.6} strokeLinejoin="round" />
            <circle cx={tX(peak[0])} cy={yv(peak[1]) - sgn * 7} r={2} fill="#000" />
            <text x={172} y={top} fontSize={18} textAnchor="middle" dominantBaseline="central">{p.fullText}</text>
            <text x={170} y={top + 17} fontSize={18} textAnchor="middle" dominantBaseline="central">{p.unit}</text>
            <text x={148} y={p.zero} fontSize={18} textAnchor="middle" dominantBaseline="central">0</text>
            <text x={nameX} y={p.labelY} fontSize={26} fontFamily={CJK} dominantBaseline="central">{p.name}</text>
            <text x={compX} y={p.labelY} fontSize={26} dominantBaseline="central">{p.comp}</text>
            {p.kind !== 'acc' && (
                <g stroke="#000" strokeWidth={1.6} fill="none">
                    <path d={`M${BR_X + 13},${top}H${BR_X}V${bottom}H${BR_X + 13}`} />
                    <line x1={BR_X} x2={BR_X + 13} y1={p.zero} y2={p.zero} />
                    <line x1={x1} x2={x1} y1={top} y2={bottom} strokeWidth={2} />
                </g>
            )}
        </g>
    );
}

function AccBracket() {
    const acc = panels.filter((p) => p.kind === 'acc');
    const top = panelTop(acc[0]);
    const bottom = panelBottom(acc[acc.length - 1]);
    const stubs = [...acc.map(panelTop), ...acc.map(panelBottom), acc[acc.length - 1].zero];
    return (
        <g stroke="#000" strokeWidth={1.6} fill="none">
            <line x1={BR_X} x2={BR_X} y1={top} y2={bottom} />
            {stubs.map((y, i) => (
                <line key={i} x1={BR_X} x2={BR_X + 13} y1={y} y2={y} />
            ))}
            <line x1={tX(70)} x2={tX(70)} y1={top} y2={bottom} strokeWidth={2} />
        </g>
    );
}

function TimeAxis() {
    const secs = d3.range(10, 71);
    return (
        <g>
            <line x1={tX(10)} x2={tX(70)} y1={119} y2={119} stroke="#000" strokeWidth={1.6} />
            {secs.map((s) => (
                <line key={s} x1={tX(s)} x2={tX(s)} y1={119} y2={119 + (s % 10 === 0 ? 21 : 8)} stroke="#000" strokeWidth={1.3} />
            ))}
            {timeMajor.map((s, i) => (
                <text key={s} x={tX(s)} y={143} fontSize={20} textAnchor="middle" dominantBaseline="central">
                    {timeMajorLabels[i]}
                </text>
            ))}
            <text x={295} y={101} fontSize={26} dominantBaseline="central" style={{ whiteSpace: 'pre' }} xmlSpace="preserve">
                {TITLE_TIME}
            </text>
            <text x={954} y={101} fontSize={28} fontFamily={CJK} dominantBaseline="central">{TITLE_SITE}</text>
        </g>
    );
}

function IntensityPanel() {
    const y = d3.scaleLinear().domain([0, 7]).range([1518, 1296.5]);
    const line = d3
        .line<Pt>()
        .x((d) => tX(d[0]))
        .y((d) => y(d[1]));
    const peak = intensity.reduce((a, d) => (d[1] > a[1] ? d : a), intensity[0]);
    const axisY = 1541.5;
    const secs = d3.range(10, 71);
    return (
        <g>
            {intensityTicks.map((v, i) => (
                <g key={v}>
                    <line x1={tX(10)} x2={tX(70)} y1={y(v)} y2={y(v)} stroke="#000" strokeWidth={1.2} strokeDasharray={DOT} />
                    <text x={191} y={y(v)} fontSize={20} textAnchor="end" dominantBaseline="central">
                        {intensityTickLabels[i]}
                    </text>
                </g>
            ))}
            <path d={line(intensity) || ''} fill="none" stroke="#000" strokeWidth={2.6} strokeLinejoin="round" />
            <circle cx={tX(peak[0]) - 10} cy={y(peak[1]) - 1} r={1.6} fill="#000" />
            <text x={tX(peak[0]) + 2} y={1343} fontSize={19} textAnchor="middle" dominantBaseline="central">
                {PEAK_INTENSITY.toFixed(2)}
            </text>
            <text x={199} y={1310} fontSize={25} fontFamily={CJK} dominantBaseline="central">計測震度</text>
            <text x={198} y={1339} fontSize={25} fontFamily={CJK} dominantBaseline="central">(参考値)</text>
            <line x1={tX(10)} x2={tX(70)} y1={axisY} y2={axisY} stroke="#000" strokeWidth={1.8} />
            {secs.map((s) => (
                <line key={s} x1={tX(s)} x2={tX(s)} y1={axisY} y2={axisY - (s % 10 === 0 ? 20 : 8)} stroke="#000" strokeWidth={1.4} />
            ))}
            {timeMajor.map((s, i) => (
                <text key={s} x={tX(s)} y={1558} fontSize={20} textAnchor="middle" dominantBaseline="central">
                    {timeMajorLabels[i]}
                </text>
            ))}
        </g>
    );
}

type Series = { data: Pt[]; color: string; width: number; curve: d3.CurveFactory };

function Spectrum({
    id,
    top,
    bottom,
    yMax,
    gridMax,
    yLabelValues,
    yLabels,
    series
}: {
    id: string;
    top: number;
    bottom: number;
    yMax: number;
    gridMax: number;
    yLabelValues: number[];
    yLabels: string[];
    series: Series[];
}) {
    const y = d3.scaleLog().domain([0.1, yMax]).range([bottom, top]);
    const [left, right] = periodX.range();
    const xTicks = periodX.ticks().filter((t) => t > 0.0201 && t < 19.9);
    const yTicks = y.ticks().filter((v) => v < yMax * 0.99);
    return (
        <g>
            <clipPath id={id}>
                <rect x={left} y={top} width={right - left} height={bottom - top} />
            </clipPath>
            {xTicks.map((t, i) => (
                <g key={'x' + i}>
                    <line x1={periodX(t)} x2={periodX(t)} y1={top} y2={bottom} stroke="#444" strokeWidth={1} />
                    <line x1={periodX(t)} x2={periodX(t)} y1={bottom} y2={bottom - 19} stroke="#000" strokeWidth={3} />
                </g>
            ))}
            {yTicks.map((v, i) => (
                <g key={'y' + i}>
                    {v <= gridMax * 1.001 && (
                        <line x1={left} x2={right} y1={y(v)} y2={y(v)} stroke="#444" strokeWidth={1} />
                    )}
                    <line x1={left} x2={left + 21} y1={y(v)} y2={y(v)} stroke="#000" strokeWidth={3} />
                </g>
            ))}
            <g clipPath={`url(#${id})`}>
                {series.map((s, i) => {
                    const line = d3
                        .line<Pt>()
                        .x((d) => periodX(d[0]))
                        .y((d) => y(d[1]))
                        .curve(s.curve);
                    return <path key={i} d={line(s.data) || ''} fill="none" stroke={s.color} strokeWidth={s.width} strokeLinejoin="round" />;
                })}
            </g>
            <rect x={left} y={top} width={right - left} height={bottom - top} fill="none" stroke="#000" strokeWidth={3} />
            {yLabelValues.map((v, i) => (
                <text key={v} x={1448} y={y(v)} fontSize={20} textAnchor="middle" dominantBaseline="central">
                    {yLabels[i]}
                </text>
            ))}
            {periodLabelValues.map((t, i) => (
                <text key={t} x={periodX(t)} y={bottom + 21} fontSize={20} textAnchor="middle" dominantBaseline="central">
                    {periodLabels[i]}
                </text>
            ))}
            <text x={2156} y={bottom + 14} fontSize={14} textAnchor="middle" dominantBaseline="central">sec</text>
        </g>
    );
}

function LegendLine({ x1, x2, y, color, width }: { x1: number; x2: number; y: number; color: string; width: number }) {
    return <line x1={x1} x2={x2} y1={y} y2={y} stroke={color} strokeWidth={width} />;
}

export default function App() {
    return (
        <svg
            width={2200}
            height={1700}
            viewBox="0 0 2200 1700"
            style={{ position: 'absolute', left: 0, top: 0, background: '#fff' }}
            fontFamily={SANS}
            fill="#000"
        >
            <rect width={2200} height={1700} fill="#fff" />
            <TimeAxis />
            <AccBracket />
            {panels.map((p, i) => (
                <TracePanel key={i} p={p} />
            ))}
            <IntensityPanel />

            {/* Fourier spectrum */}
            <text x={1479} y={182} fontSize={15} dominantBaseline="central">cm/sec(gal·sec)</text>
            <text x={1874} y={182} fontSize={15} dominantBaseline="central">0.4Hz band smoothing</text>
            <Spectrum
                id="fourier-clip"
                top={198}
                bottom={796}
                yMax={3000}
                gridMax={1000}
                yLabelValues={[0.1, 1, 10, 100, 1000]}
                yLabels={['0.1', '1', '10', '100', '1000']}
                series={[
                    { data: fourierNS, color: RED, width: 2, curve: d3.curveCatmullRom.alpha(0.5) },
                    { data: fourierEW, color: GREEN, width: 2, curve: d3.curveCatmullRom.alpha(0.5) },
                    { data: fourierUD, color: BLUE, width: 2, curve: d3.curveCatmullRom.alpha(0.5) }
                ]}
            />
            <text x={1661} y={858} fontSize={26} dominantBaseline="central">Fourie spectrum</text>
            <text x={1899} y={858} fontSize={26} dominantBaseline="central">N-S</text>
            <LegendLine x1={1952} x2={1984} y={858} color={RED} width={2.5} />
            <text x={1992} y={858} fontSize={26} dominantBaseline="central">E-W</text>
            <LegendLine x1={2049} x2={2079} y={858} color={GREEN} width={2.5} />
            <text x={2091} y={858} fontSize={26} dominantBaseline="central">U-D</text>
            <LegendLine x1={2143} x2={2175} y={858} color={BLUE} width={2.5} />

            {/* Velocity response spectrum */}
            <text x={1479} y={891} fontSize={15} dominantBaseline="central">cm/sec</text>
            <text x={1953} y={891} fontSize={15} dominantBaseline="central">h=5%</text>
            <Spectrum
                id="response-clip"
                top={905}
                bottom={1452}
                yMax={300}
                gridMax={100}
                yLabelValues={[0.1, 1, 10, 100]}
                yLabels={['0.1', '1', '10', '100']}
                series={[
                    { data: responseNS, color: RED, width: 1.8, curve: d3.curveLinear },
                    { data: responseEW, color: GREEN, width: 1.8, curve: d3.curveLinear },
                    { data: responseUD, color: BLUE, width: 1.8, curve: d3.curveLinear },
                    { data: responseHorizon, color: '#000', width: 5, curve: d3.curveLinear }
                ]}
            />
            <text x={1463} y={1501} fontSize={22} dominantBaseline="central">Velocity response spectrum N-S</text>
            <LegendLine x1={1818} x2={1842} y={1501} color={RED} width={2.5} />
            <text x={1853} y={1501} fontSize={22} dominantBaseline="central">E-W</text>
            <LegendLine x1={1901} x2={1925} y={1501} color={GREEN} width={2.5} />
            <text x={1936} y={1501} fontSize={22} dominantBaseline="central">U-D</text>
            <LegendLine x1={1984} x2={2009} y={1501} color={BLUE} width={2.5} />
            <text x={2015} y={1501} fontSize={22} dominantBaseline="central">Horizon</text>
            <LegendLine x1={2108} x2={2131} y={1501} color="#000" width={6} />
        </svg>
    );
}
